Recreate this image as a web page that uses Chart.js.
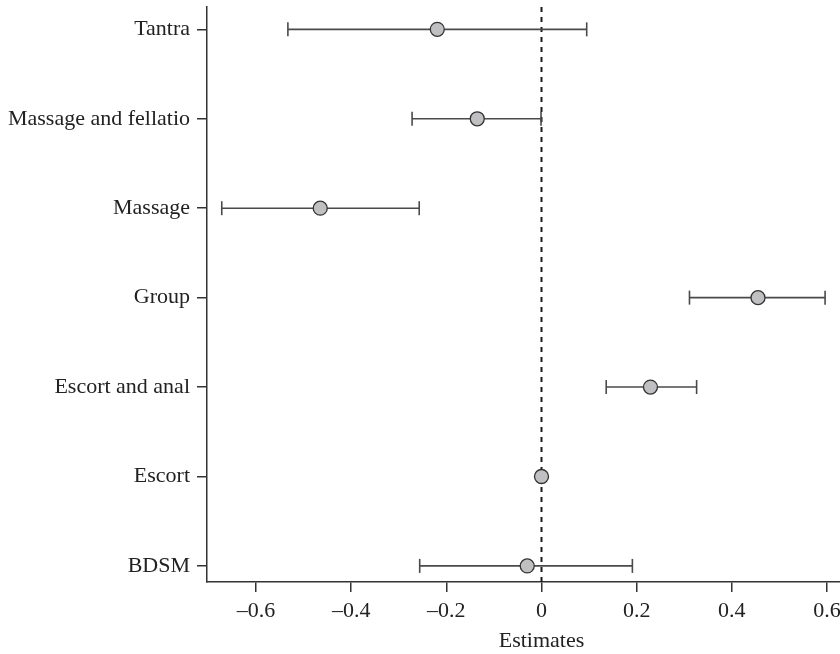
<!DOCTYPE html>
<html>
<head>
<meta charset="utf-8">
<script src="https://cdn.jsdelivr.net/npm/chart.js@4"></script>
<style>
  html, body { margin: 0; padding: 0; background: #fff; overflow: hidden; width: 840px; height: 654px; }
  canvas { display: block; }
</style>
</head>
<body>
<!-- the original figure is cropped on the right, so the canvas runs past the window -->
<canvas id="myChart" width="876" height="654"></canvas>
<script>
// rows from bottom (y = 0) to top (y = 6)
const categories = ['BDSM', 'Escort', 'Escort and anal', 'Group', 'Massage', 'Massage and fellatio', 'Tantra'];
const estimates = [-0.030, 0, 0.229, 0.455, -0.465, -0.135, -0.219];
const lower = [-0.256, null, 0.136, 0.311, -0.672, -0.272, -0.533];
const upper = [0.191, null, 0.326, 0.596, -0.257, -0.001, 0.095];
const xTicks = [-0.6, -0.4, -0.2, 0, 0.2, 0.4, 0.6];

const textColor = '#222';
const axisColor = '#333';
const fontSpec = { family: '"Liberation Serif", "Times New Roman", serif', size: 22 };

const datasets = [];

// points
datasets.push({
    data: estimates.map((v, i) => ({ x: v, y: i })),
    showLine: false,
    pointRadius: 7,
    pointBackgroundColor: '#c0c0c2',
    pointBorderColor: '#333',
    pointBorderWidth: 1.3,
    order: 0
});

// error bars, one line per row with vertical caps
categories.forEach(function (c, i) {
    if (lower[i] === null) return;
    datasets.push({
        data: [{ x: lower[i], y: i }, { x: upper[i], y: i }],
        showLine: true,
        borderColor: '#4a4a4a',
        borderWidth: 1.6,
        pointStyle: 'line',
        rotation: 90,
        pointRadius: 7,
        pointBorderColor: '#4a4a4a',
        pointBorderWidth: 1.6,
        order: 1
    });
});

// dashed zero line
datasets.push({
    data: [{ x: 0, y: -0.18 }, { x: 0, y: 6.25 }],
    showLine: true,
    borderColor: '#1a1a1a',
    borderWidth: 2,
    borderDash: [5, 5],
    pointRadius: 0,
    order: 2
});

const ctx = document.getElementById('myChart').getContext('2d');
const chart = new Chart(ctx, {
    type: 'scatter',
    data: { datasets: datasets },
    options: {
        responsive: false,
        animation: false,
        layout: { autoPadding: false, padding: { top: 7, right: 0, left: 0, bottom: 0 } },
        plugins: {
            legend: { display: false },
            tooltip: { enabled: false }
        },
        scales: {
            x: {
                type: 'linear',
                position: 'bottom',
                min: -0.703,
                max: 0.703,
                afterBuildTicks: function (scale) {
                    scale.ticks = xTicks.map(v => ({ value: v }));
                },
                afterFit: function (scale) {
                    scale.height = 72;
                    scale.paddingLeft = 0;
                    scale.paddingRight = 0;
                },
                ticks: {
                    color: textColor,
                    font: fontSpec,
                    padding: 6,
                    maxRotation: 0,
                    callback: function (value) {
                        if (value === 0) return '0';
                        const s = Math.abs(value).toFixed(1);
                        return value < 0 ? '\u2013' + s : s;
                    }
                },
                grid: {
                    drawOnChartArea: false,
                    drawTicks: true,
                    tickLength: 10,
                    color: axisColor,
                    lineWidth: 1.5
                },
                border: { display: true, color: axisColor, width: 1.5 },
                title: {
                    display: true,
                    text: 'Estimates',
                    color: textColor,
                    font: fontSpec,
                    padding: { top: 0, bottom: 0 }
                }
            },
            y: {
                type: 'linear',
                min: -0.18,
                max: 6.25,
                afterBuildTicks: function (scale) {
                    scale.ticks = categories.map((c, i) => ({ value: i }));
                },
                afterFit: function (scale) {
                    scale.width = 207;
                    scale.paddingTop = 0;
                    scale.paddingBottom = 0;
                },
                ticks: {
                    color: textColor,
                    font: fontSpec,
                    padding: 7,
                    callback: function (value) {
                        return categories[value];
                    }
                },
                grid: {
                    drawOnChartArea: false,
                    drawTicks: true,
                    tickLength: 10,
                    color: axisColor,
                    lineWidth: 1.5
                },
                border: { display: true, color: axisColor, width: 1.5 }
            }
        }
    }
});
</script>
</body>
</html>
